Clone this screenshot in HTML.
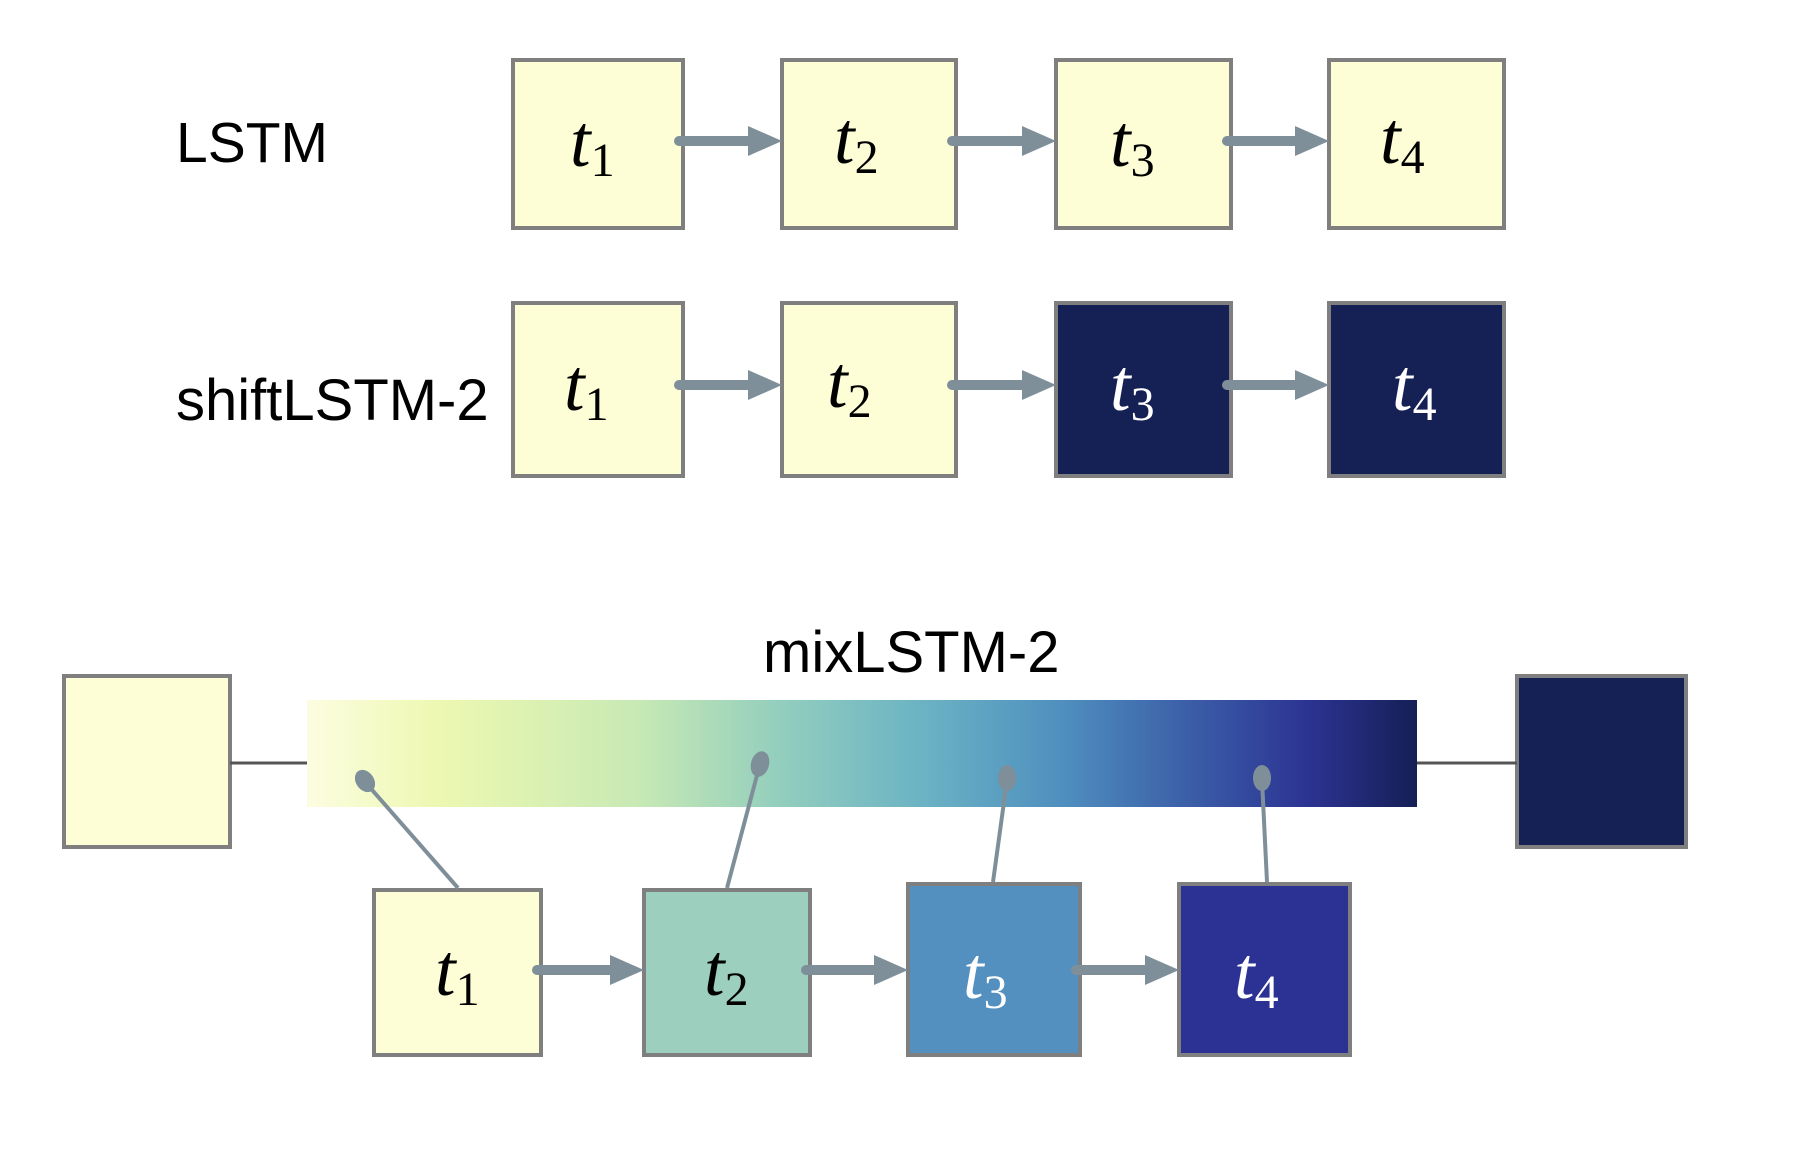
<!DOCTYPE html>
<html><head><meta charset="utf-8"><style>
html,body{margin:0;padding:0;background:#fff;}
svg{display:block;}
.lbl{font-family:"Liberation Sans",sans-serif;font-size:57px;fill:#000;}
.t{font-family:"Liberation Serif",serif;font-style:italic;font-size:74px;}
.s{font-family:"Liberation Serif",serif;font-size:48px;font-style:normal;}
</style></head><body>
<svg width="1800" height="1162" viewBox="0 0 1800 1162" xmlns="http://www.w3.org/2000/svg">
<defs>
<linearGradient id="g" x1="0" x2="1" y1="0" y2="0">
<stop offset="0" stop-color="#fcfde0"/>
<stop offset="0.12" stop-color="#edf8b1"/>
<stop offset="0.3" stop-color="#c7e9b4"/>
<stop offset="0.42" stop-color="#95cfbd"/>
<stop offset="0.55" stop-color="#6cb4c4"/>
<stop offset="0.68" stop-color="#4f8fbf"/>
<stop offset="0.8" stop-color="#3a5ca6"/>
<stop offset="0.9" stop-color="#2c3493"/>
<stop offset="1" stop-color="#151f56"/>
</linearGradient>
</defs>
<text class="lbl" x="176" y="162">LSTM</text>
<text class="lbl" x="176" y="420" style="font-size:58px">shiftLSTM-2</text>
<text class="lbl" x="763" y="672" style="font-size:58px">mixLSTM-2</text>

<g stroke="#7f7f7f" stroke-width="4">
<rect x="513" y="60" width="170" height="168" fill="#fdfed6"/>
<rect x="782" y="60" width="174" height="168" fill="#fdfed6"/>
<rect x="1056" y="60" width="175" height="168" fill="#fdfed6"/>
<rect x="1329" y="60" width="175" height="168" fill="#fdfed6"/>
<rect x="513" y="303" width="170" height="173" fill="#fdfed6"/>
<rect x="782" y="303" width="174" height="173" fill="#fdfed6"/>
<rect x="1056" y="303" width="175" height="173" fill="#152055"/>
<rect x="1329" y="303" width="175" height="173" fill="#152055"/>
<rect x="64" y="676" width="166" height="171" fill="#fdfed6"/>
<rect x="1517" y="676" width="169" height="171" fill="#152055"/>
<rect x="374" y="890" width="167" height="165" fill="#fdfed6"/>
<rect x="644" y="890" width="166" height="165" fill="#9ccfbe"/>
<rect x="908" y="884" width="172" height="171" fill="#5390c0"/>
<rect x="1179" y="884" width="171" height="171" fill="#2c3194"/>
</g>
<rect x="307" y="700" width="1110" height="107" fill="url(#g)"/>
<g stroke="#555" stroke-width="3">
<line x1="230" y1="763" x2="307" y2="763"/>
<line x1="1417" y1="763" x2="1517" y2="763"/>
</g>

<g stroke="#7f8f9a" stroke-width="10" stroke-linecap="round">
<line x1="679" y1="141" x2="752" y2="141"/>
<line x1="952" y1="141" x2="1026" y2="141"/>
<line x1="1227" y1="141" x2="1299" y2="141"/>
<line x1="679" y1="385" x2="752" y2="385"/>
<line x1="952" y1="385" x2="1026" y2="385"/>
<line x1="1227" y1="385" x2="1299" y2="385"/>
<line x1="537" y1="970" x2="614" y2="970"/>
<line x1="806" y1="970" x2="878" y2="970"/>
<line x1="1076" y1="970" x2="1149" y2="970"/>
</g>
<g fill="#7f8f9a">
<polygon points="748,126 782,141 748,156"/>
<polygon points="1022,126 1056,141 1022,156"/>
<polygon points="1295,126 1329,141 1295,156"/>
<polygon points="748,370 782,385 748,400"/>
<polygon points="1022,370 1056,385 1022,400"/>
<polygon points="1295,370 1329,385 1295,400"/>
<polygon points="610,955 644,970 610,985"/>
<polygon points="874,955 908,970 874,985"/>
<polygon points="1145,955 1179,970 1145,985"/>
</g>

<g stroke="#7f8f9a" stroke-width="4">
<line x1="366" y1="783" x2="458" y2="888"/>
<line x1="760" y1="764" x2="727" y2="888"/>
<line x1="1007" y1="780" x2="993" y2="882"/>
<line x1="1262" y1="780" x2="1267" y2="882"/>
</g>
<g fill="#7f8f9a">
<ellipse cx="365" cy="781" rx="9" ry="12" transform="rotate(-35 365 781)"/>
<ellipse cx="760" cy="764" rx="9" ry="13" transform="rotate(15 760 764)"/>
<ellipse cx="1007" cy="778" rx="9" ry="13"/>
<ellipse cx="1262" cy="778" rx="9" ry="13"/>
</g>

<g class="t">
<text x="570" y="166" fill="#000">t<tspan class="s" dy="10">1</tspan></text>
<text x="834" y="163" fill="#000">t<tspan class="s" dy="10">2</tspan></text>
<text x="1110" y="166" fill="#000">t<tspan class="s" dy="10">3</tspan></text>
<text x="1380" y="163" fill="#000">t<tspan class="s" dy="10">4</tspan></text>
<text x="564" y="410" fill="#000">t<tspan class="s" dy="10">1</tspan></text>
<text x="827" y="407" fill="#000">t<tspan class="s" dy="10">2</tspan></text>
<text x="1110" y="410" fill="#fff">t<tspan class="s" dy="10">3</tspan></text>
<text x="1392" y="410" fill="#fff">t<tspan class="s" dy="10">4</tspan></text>
<text x="435" y="995" fill="#000">t<tspan class="s" dy="10">1</tspan></text>
<text x="704" y="995" fill="#000">t<tspan class="s" dy="10">2</tspan></text>
<text x="963" y="998" fill="#fff">t<tspan class="s" dy="10">3</tspan></text>
<text x="1234" y="998" fill="#fff">t<tspan class="s" dy="10">4</tspan></text>
</g>
</svg>
</body></html>
